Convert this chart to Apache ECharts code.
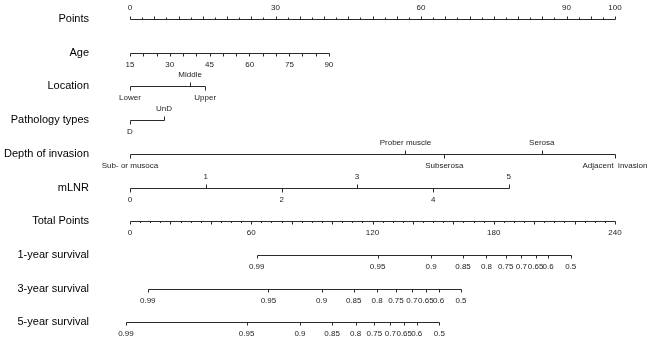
<!DOCTYPE html>
<html><head><meta charset="utf-8">
<script src="https://cdn.jsdelivr.net/npm/echarts@6/dist/echarts.min.js"></script>
<style>html,body{margin:0;padding:0;background:#fff}#c{width:650px;height:343px}</style>
</head><body><div id="c"></div>
<script>
// ---- data ----
const rowNames = ['Points','Age','Location','Pathology types','Depth of invasion','mLNR','Total Points','1-year survival','3-year survival','5-year survival'];

const pointsLabels = [0, 30, 60, 90, 100];
const pointsMax = 100;

const ageLabels = [15, 30, 45, 60, 75, 90];
const agePoints = [0, 8.2, 16.4, 24.7, 32.9, 41.0];
const ageTickValues = [15,20,25,30,35,40,45,50,55,60,65,70,75,80,85,90];

const locationLabels = ['Lower', 'Middle', 'Upper'];
const locationPoints = [0, 12.4, 15.5];

const pathologyLabels = ['D', 'UnD'];
const pathologyPoints = [0, 7.0];

const depthLabels = ['Sub- or musoca', 'Prober muscle', 'Subserosa', 'Serosa', 'Adjacent  invasion'];
const depthPoints = [0, 56.8, 64.8, 84.9, 100];

const mlnrLabels = ['0', '1', '2', '3', '4', '5'];
const mlnrPoints = [0, 15.6, 31.3, 46.8, 62.5, 78.1];

const totalLabels = [0, 60, 120, 180, 240];
const totalMax = 240;

const survLabels = ['0.99','0.95','0.9','0.85','0.8','0.75','0.7','0.65','0.6','0.5'];
const surv1Total = [62.7, 122.5, 149.0, 164.8, 176.4, 185.9, 193.7, 200.7, 206.9, 218.1];
const surv3Total = [8.8, 68.5, 94.8, 110.7, 122.3, 131.6, 139.5, 146.4, 152.7, 163.8];
const surv5Total = [-2.0, 57.7, 84.1, 100.0, 111.6, 120.9, 128.8, 135.7, 141.9, 153.1];

// ---- build row specs ----
const UP = -1, DOWN = 1;
function range(a, b, step) { const r = []; for (let v = a; v <= b + 1e-9; v += step) r.push(+v.toFixed(4)); return r; }
const ageToPts = a => (a - ageLabels[0]) / (ageLabels[ageLabels.length-1] - ageLabels[0]) * agePoints[agePoints.length-1];
const totToPts = t => t / totalMax * pointsMax;

function catRow(row, labels, pts, sides) {
  return {
    row, line: [pts[0], pts[pts.length-1]],
    ticks: pts.map((p, i) => ({ p, len: 4, dir: sides[i] })),
    labels: labels.map((t, i) => ({ p: pts[i], t, dir: sides[i] }))
  };
}
function survRow(row, tot) {
  const pts = tot.map(totToPts);
  return {
    row, line: [pts[0], pts[pts.length-1]],
    ticks: pts.map(p => ({ p, len: 3, dir: DOWN })),
    labels: survLabels.map((t, i) => ({ p: pts[i], t, dir: DOWN }))
  };
}

const specs = [
  { row: 0, line: [0, pointsMax],
    ticks: range(0, pointsMax, 2.5).map(v => ({ p: v, len: (v % 5 === 0) ? 3 : 2, dir: UP })),
    labels: pointsLabels.map(v => ({ p: v, t: String(v), dir: UP })) },
  { row: 1, line: [0, agePoints[agePoints.length-1]],
    ticks: ageTickValues.map(a => ({ p: ageToPts(a), len: 3, dir: DOWN })),
    labels: ageLabels.map((a, i) => ({ p: agePoints[i], t: String(a), dir: DOWN })) },
  catRow(2, locationLabels, locationPoints, [DOWN, UP, DOWN]),
  catRow(3, pathologyLabels, pathologyPoints, [DOWN, UP]),
  catRow(4, depthLabels, depthPoints, [DOWN, UP, DOWN, UP, DOWN]),
  catRow(5, mlnrLabels, mlnrPoints, [DOWN, UP, DOWN, UP, DOWN, UP]),
  { row: 6, line: [0, pointsMax],
    ticks: range(0, totalMax, 5).map(v => ({ p: totToPts(v), len: (v % 20 === 0) ? 3 : 1.5, dir: DOWN })),
    labels: totalLabels.map(v => ({ p: totToPts(v), t: String(v), dir: DOWN })) },
  survRow(7, surv1Total),
  survRow(8, surv3Total),
  survRow(9, surv5Total)
];

const LINE = '#2a2a2a', TXT = '#231a1a';
const FONT = '8px "Liberation Sans", Arial, sans-serif';

function renderItem(params, api) {
  const s = specs[params.dataIndex];
  const y = Math.round(api.coord([0, s.row])[1]) + 0.5;
  const X = p => Math.round(api.coord([p, s.row])[0]) + 0.5;
  const children = [];
  children.push({ type: 'line', shape: { x1: X(s.line[0]), y1: y, x2: X(s.line[1]), y2: y },
    style: { stroke: LINE, lineWidth: 1 } });
  s.ticks.forEach(tk => {
    children.push({ type: 'line', shape: { x1: X(tk.p), y1: y, x2: X(tk.p), y2: y + tk.dir * tk.len },
      style: { stroke: LINE, lineWidth: 1 } });
  });
  s.labels.forEach(lb => {
    children.push({ type: 'text', style: {
      x: api.coord([lb.p, s.row])[0], y: y + lb.dir * 11.5, text: lb.t,
      textAlign: 'center', textVerticalAlign: 'middle', verticalAlign: 'middle',
      font: FONT, fill: TXT } });
  });
  return { type: 'group', children };
}

const chart = echarts.init(document.getElementById('c'), null, { renderer: 'canvas' });
chart.setOption({
  animation: false,
  backgroundColor: '#fff',
  grid: { left: 130, right: 35, top: 2.15, bottom: 3.85, containLabel: false },
  xAxis: { type: 'value', min: 0, max: pointsMax, show: false },
  yAxis: { type: 'category', inverse: true, data: rowNames,
    axisLine: { show: false }, axisTick: { show: false }, splitLine: { show: false },
    axisLabel: { margin: 41, fontSize: 11, color: '#000', fontFamily: '"Liberation Sans", Arial, sans-serif' } },
  series: [{ type: 'custom', clip: false, renderItem, data: rowNames.map((n, i) => [0, i]) }]
});
</script></body></html>
